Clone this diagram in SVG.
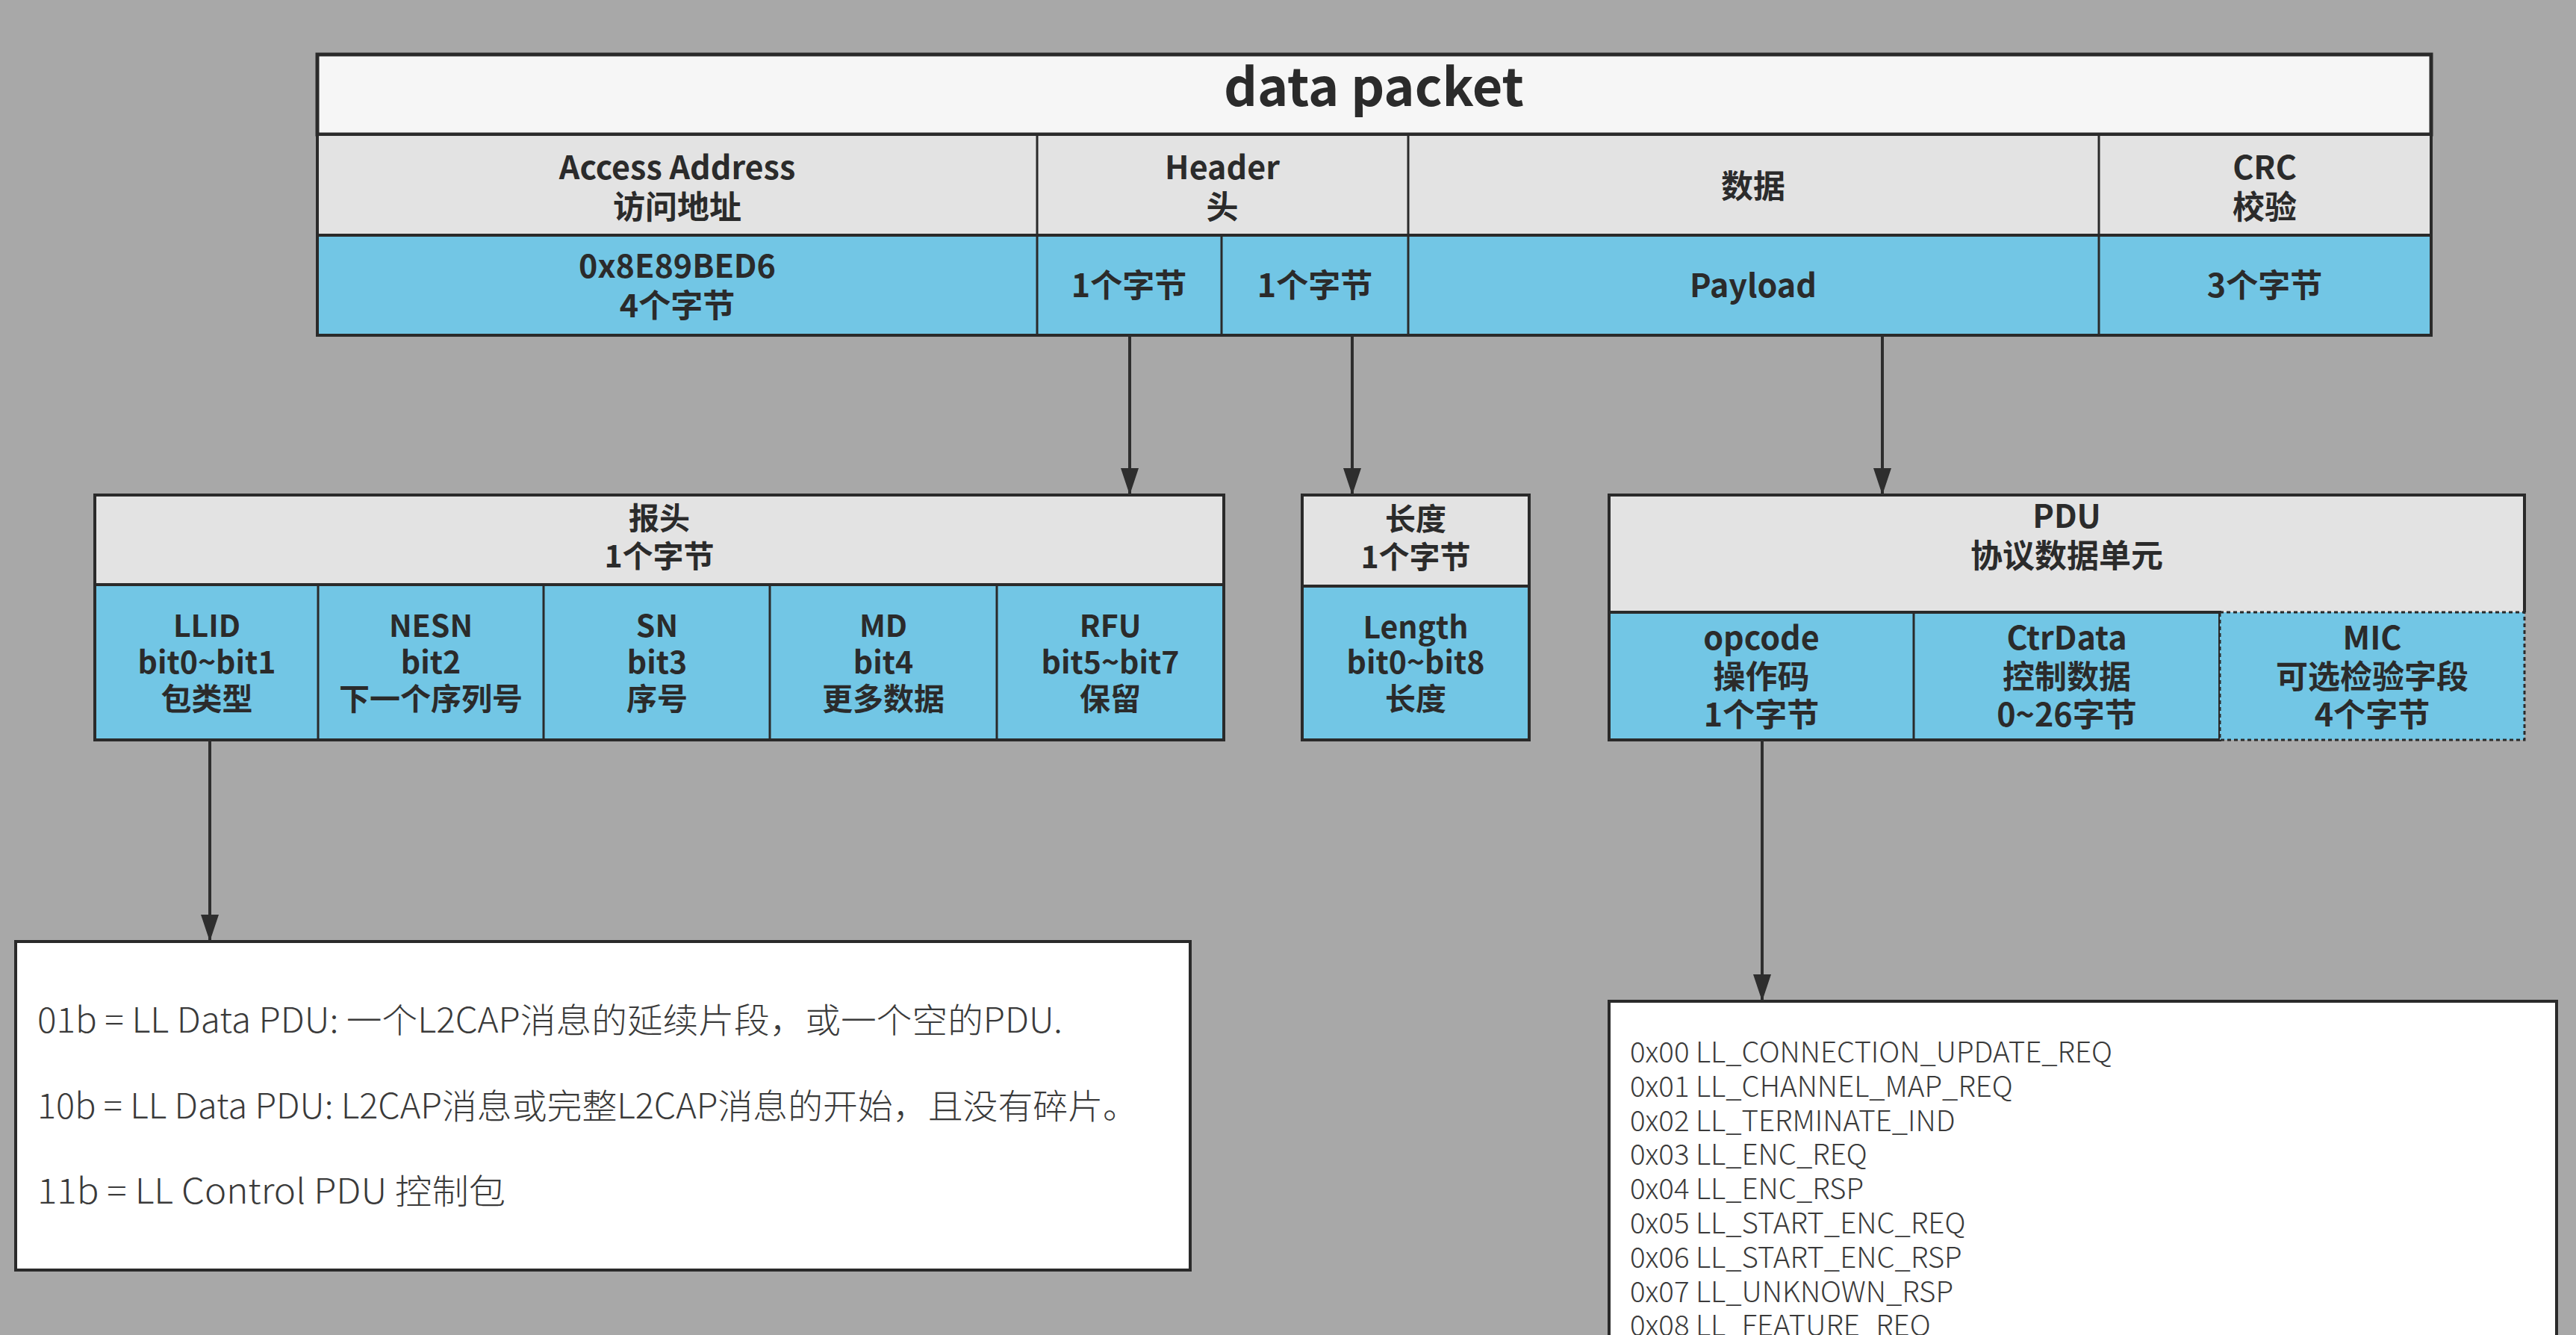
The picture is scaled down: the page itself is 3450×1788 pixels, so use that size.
<svg xmlns="http://www.w3.org/2000/svg" width="3450" height="1788" viewBox="0 0 3450 1788">
<defs>
<marker id="arr" markerWidth="36" markerHeight="24" refX="36" refY="12" orient="auto" markerUnits="userSpaceOnUse" viewBox="0 0 36 24">
<path d="M0,0 L36,12 L0,24 Z" fill="#2e2e2e"/>
</marker>
<style>
.bg{fill:#a8a8a8}
.ttl{fill:#f6f6f6;stroke:#2a2a2a;stroke-width:5}
.hd{fill:#e3e3e3;stroke:#2a2a2a;stroke-width:4}
.bl{fill:#72c6e5;stroke:#2a2a2a;stroke-width:4}
.vl{stroke:#2a2a2a;stroke-width:3;fill:none}
.wb{fill:#ffffff;stroke:#2a2a2a;stroke-width:4}
.dash{fill:#72c6e5;stroke:#2a2a2a;stroke-width:3;stroke-dasharray:5 4}
.t{font-family:"Noto Sans CJK SC","Liberation Sans",sans-serif;font-weight:bold;fill:#2b2b2b;text-anchor:middle}
.f43{font-size:43px}
.f41{font-size:41px}
.f70{font-size:70px}
.lt{font-family:"Noto Sans CJK SC","Liberation Sans",sans-serif;font-weight:300;fill:#3a3a3a}
.conn{stroke:#2e2e2e;stroke-width:4;fill:none}
</style>
</defs>
<rect class="bg" x="0" y="0" width="3450" height="1788"/>

<g id="data-packet">
<rect class="ttl" x="425" y="73" width="2831" height="107"/>
<text class="t f70" x="1840" y="142">data packet</text>
<rect class="hd" x="425" y="180" width="2831" height="135"/>
<rect class="bl" x="425" y="315" width="2831" height="134"/>
<path class="vl" d="M1389,180 V449 M1886,180 V449 M2811,180 V449 M1636,315 V449"/>
<text class="t f43" x="907" y="240">Access Address<tspan x="907" dy="53">访问地址</tspan></text>
<text class="t f43" x="1637" y="240">Header<tspan x="1637" dy="53">头</tspan></text>
<text class="t f43" x="2348" y="265">数据</text>
<text class="t f43" x="3033" y="240">CRC<tspan x="3033" dy="53">校验</tspan></text>
<text class="t f43" x="907" y="372">0x8E89BED6<tspan x="907" dy="53">4个字节</tspan></text>
<text class="t f43" x="1512" y="398">1个字节</text>
<text class="t f43" x="1761" y="398">1个字节</text>
<text class="t f43" x="2348" y="398">Payload</text>
<text class="t f43" x="3033" y="398">3个字节</text>
</g>

<g id="baotou">
<rect class="hd" x="127" y="663" width="1512" height="120"/>
<rect class="bl" x="127" y="783" width="1512" height="208"/>
<path class="vl" d="M426,783 V991 M728,783 V991 M1031,783 V991 M1335,783 V991"/>
<text class="t f41" x="883" y="709">报头<tspan x="883" dy="51">1个字节</tspan></text>
<text class="t f41" x="277" y="853">LLID<tspan x="277" dy="49">bit0~bit1</tspan><tspan x="277" dy="49">包类型</tspan></text>
<text class="t f41" x="577" y="853">NESN<tspan x="577" dy="49">bit2</tspan><tspan x="577" dy="49">下一个序列号</tspan></text>
<text class="t f41" x="880" y="853">SN<tspan x="880" dy="49">bit3</tspan><tspan x="880" dy="49">序号</tspan></text>
<text class="t f41" x="1183" y="853">MD<tspan x="1183" dy="49">bit4</tspan><tspan x="1183" dy="49">更多数据</tspan></text>
<text class="t f41" x="1487" y="853">RFU<tspan x="1487" dy="49">bit5~bit7</tspan><tspan x="1487" dy="49">保留</tspan></text>
</g>

<g id="changdu">
<rect class="hd" x="1744" y="663" width="304" height="122"/>
<rect class="bl" x="1744" y="785" width="304" height="206"/>
<text class="t f41" x="1896" y="710">长度<tspan x="1896" dy="51">1个字节</tspan></text>
<text class="t f41" x="1896" y="855">Length<tspan x="1896" dy="47">bit0~bit8</tspan><tspan x="1896" dy="49">长度</tspan></text>
</g>

<g id="pdu">
<path class="hd" d="M2155,820 V663 H3381 V820"/>
<rect x="2157" y="665" width="1222" height="155" fill="#e3e3e3"/>
<rect class="bl" x="2155" y="820" width="818" height="171"/>
<path class="vl" d="M2563,820 V991"/>
<rect class="dash" x="2973" y="820" width="408" height="171"/>
<text class="t f43" x="2768" y="707">PDU<tspan x="2768" dy="53">协议数据单元</tspan></text>
<text class="t f43" x="2359" y="870">opcode<tspan x="2359" dy="52">操作码</tspan><tspan x="2359" dy="51">1个字节</tspan></text>
<text class="t f43" x="2768" y="870">CtrData<tspan x="2768" dy="52">控制数据</tspan><tspan x="2768" dy="51">0~26字节</tspan></text>
<text class="t f43" x="3177" y="870">MIC<tspan x="3177" dy="52">可选检验字段</tspan><tspan x="3177" dy="51">4个字节</tspan></text>
</g>

<g id="llid-desc">
<rect class="wb" x="21" y="1261" width="1573" height="440"/>
<text class="lt" x="50" y="1383" font-size="46" textLength="1373" lengthAdjust="spacingAndGlyphs">01b = LL Data PDU: 一个L2CAP消息的延续片段，或一个空的PDU.</text>
<text class="lt" x="50" y="1498" font-size="46" textLength="1474" lengthAdjust="spacingAndGlyphs">10b = LL Data PDU: L2CAP消息或完整L2CAP消息的开始，且没有碎片。</text>
<text class="lt" x="50" y="1612" font-size="46" textLength="627" lengthAdjust="spacingAndGlyphs">11b = LL Control PDU 控制包</text>
</g>

<g id="opcode-list">
<rect class="wb" x="2155" y="1341" width="1269" height="480"/>
<text class="lt" font-size="38.5" x="2183" y="1423">0x00 LL_CONNECTION_UPDATE_REQ<tspan x="2183" dy="45.8">0x01 LL_CHANNEL_MAP_REQ</tspan><tspan x="2183" dy="45.8">0x02 LL_TERMINATE_IND</tspan><tspan x="2183" dy="45.8">0x03 LL_ENC_REQ</tspan><tspan x="2183" dy="45.8">0x04 LL_ENC_RSP</tspan><tspan x="2183" dy="45.8">0x05 LL_START_ENC_REQ</tspan><tspan x="2183" dy="45.8">0x06 LL_START_ENC_RSP</tspan><tspan x="2183" dy="45.8">0x07 LL_UNKNOWN_RSP</tspan><tspan x="2183" dy="45.8">0x08 LL_FEATURE_REQ</tspan></text>
</g>

<g id="connectors">
<line class="conn" x1="1513" y1="449" x2="1513" y2="663" marker-end="url(#arr)"/>
<line class="conn" x1="1811" y1="449" x2="1811" y2="663" marker-end="url(#arr)"/>
<line class="conn" x1="2521" y1="449" x2="2521" y2="663" marker-end="url(#arr)"/>
<line class="conn" x1="281" y1="991" x2="281" y2="1261" marker-end="url(#arr)"/>
<line class="conn" x1="2360" y1="991" x2="2360" y2="1341" marker-end="url(#arr)"/>
</g>
</svg>
